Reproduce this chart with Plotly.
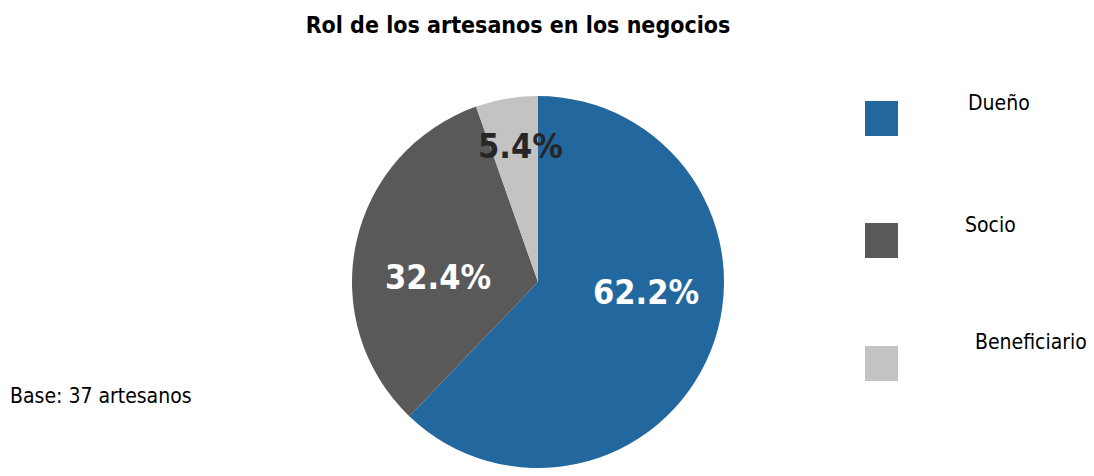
import plotly.graph_objects as go

# Data
categories = ["Dueño", "Socio", "Beneficiario"]
counts = [23, 12, 2]  # base: 37 artesanos -> 62.2%, 32.4%, 5.4%
colors = ["#22679e", "#595959", "#c3c3c3"]
label_colors = ["#ffffff", "#ffffff", "#262626"]

# page offset (browser body margin) compensation
OFF = 8
W, H = 1094 - OFF, 476 - OFF

def px(x):
    return (x - OFF) / W

def py(y):
    return (H - (y - OFF)) / H

cx, cy, r = 538, 282, 186

TXT_FONT = "DejaVu Sans Condensed, Roboto, Liberation Sans, sans-serif"
LBL_FONT = "DejaVu Sans Condensed, Roboto, sans-serif"

fig = go.Figure()
fig.add_trace(go.Pie(
    labels=categories,
    values=counts,
    sort=False,
    direction="clockwise",
    rotation=0,
    marker=dict(colors=colors, line=dict(width=0)),
    textinfo="none",
    showlegend=False,
    hoverinfo="label+percent",
    domain=dict(x=[px(cx - r), px(cx + r)], y=[py(cy + r), py(cy - r)]),
))

total = sum(counts)
pct_texts = [f"{100 * v / total:.1f}%" for v in counts]
label_xy = [(646, 292), (438, 277), (520, 146)]

shapes = []
annotations = []
for t, col, (lx, ly) in zip(pct_texts, label_colors, label_xy):
    annotations.append(dict(text=f"<b>{t}</b>", xref="paper", yref="paper", x=px(lx), y=py(ly),
                            xanchor="center", yanchor="middle", showarrow=False,
                            font=dict(family=LBL_FONT, size=34, color=col)))

# Manual legend (square swatches with offset labels)
sw_x0, sw_x1 = 865, 898
sw_tops = [101, 223, 346]
lab_pos = [(999, 103), (990, 225), (1031, 342)]
for cat, col, top, (lx, ly) in zip(categories, colors, sw_tops, lab_pos):
    shapes.append(dict(type="rect", xref="paper", yref="paper",
                       x0=px(sw_x0), x1=px(sw_x1), y0=py(top + 35), y1=py(top),
                       fillcolor=col, line=dict(width=0)))
    annotations.append(dict(text=cat, xref="paper", yref="paper", x=px(lx), y=py(ly),
                            xanchor="center", yanchor="middle", showarrow=False,
                            font=dict(family=TXT_FONT, size=21, color="#000000")))

annotations.append(dict(text="Base: 37 artesanos", xref="paper", yref="paper",
                        x=px(8), y=py(396), xanchor="left", yanchor="middle", showarrow=False,
                        font=dict(family=TXT_FONT, size=21, color="#000000")))

fig.update_layout(
    width=W, height=H,
    margin=dict(l=0, r=0, t=0, b=0),
    paper_bgcolor="white",
    plot_bgcolor="white",
    title=dict(text="<b>Rol de los artesanos en los negocios</b>", x=px(518), xanchor="center",
               y=py(25), yanchor="middle",
               font=dict(family=TXT_FONT, size=23, color="#000000")),
    shapes=shapes,
    annotations=annotations,
)

fig.write_html("out.html")
